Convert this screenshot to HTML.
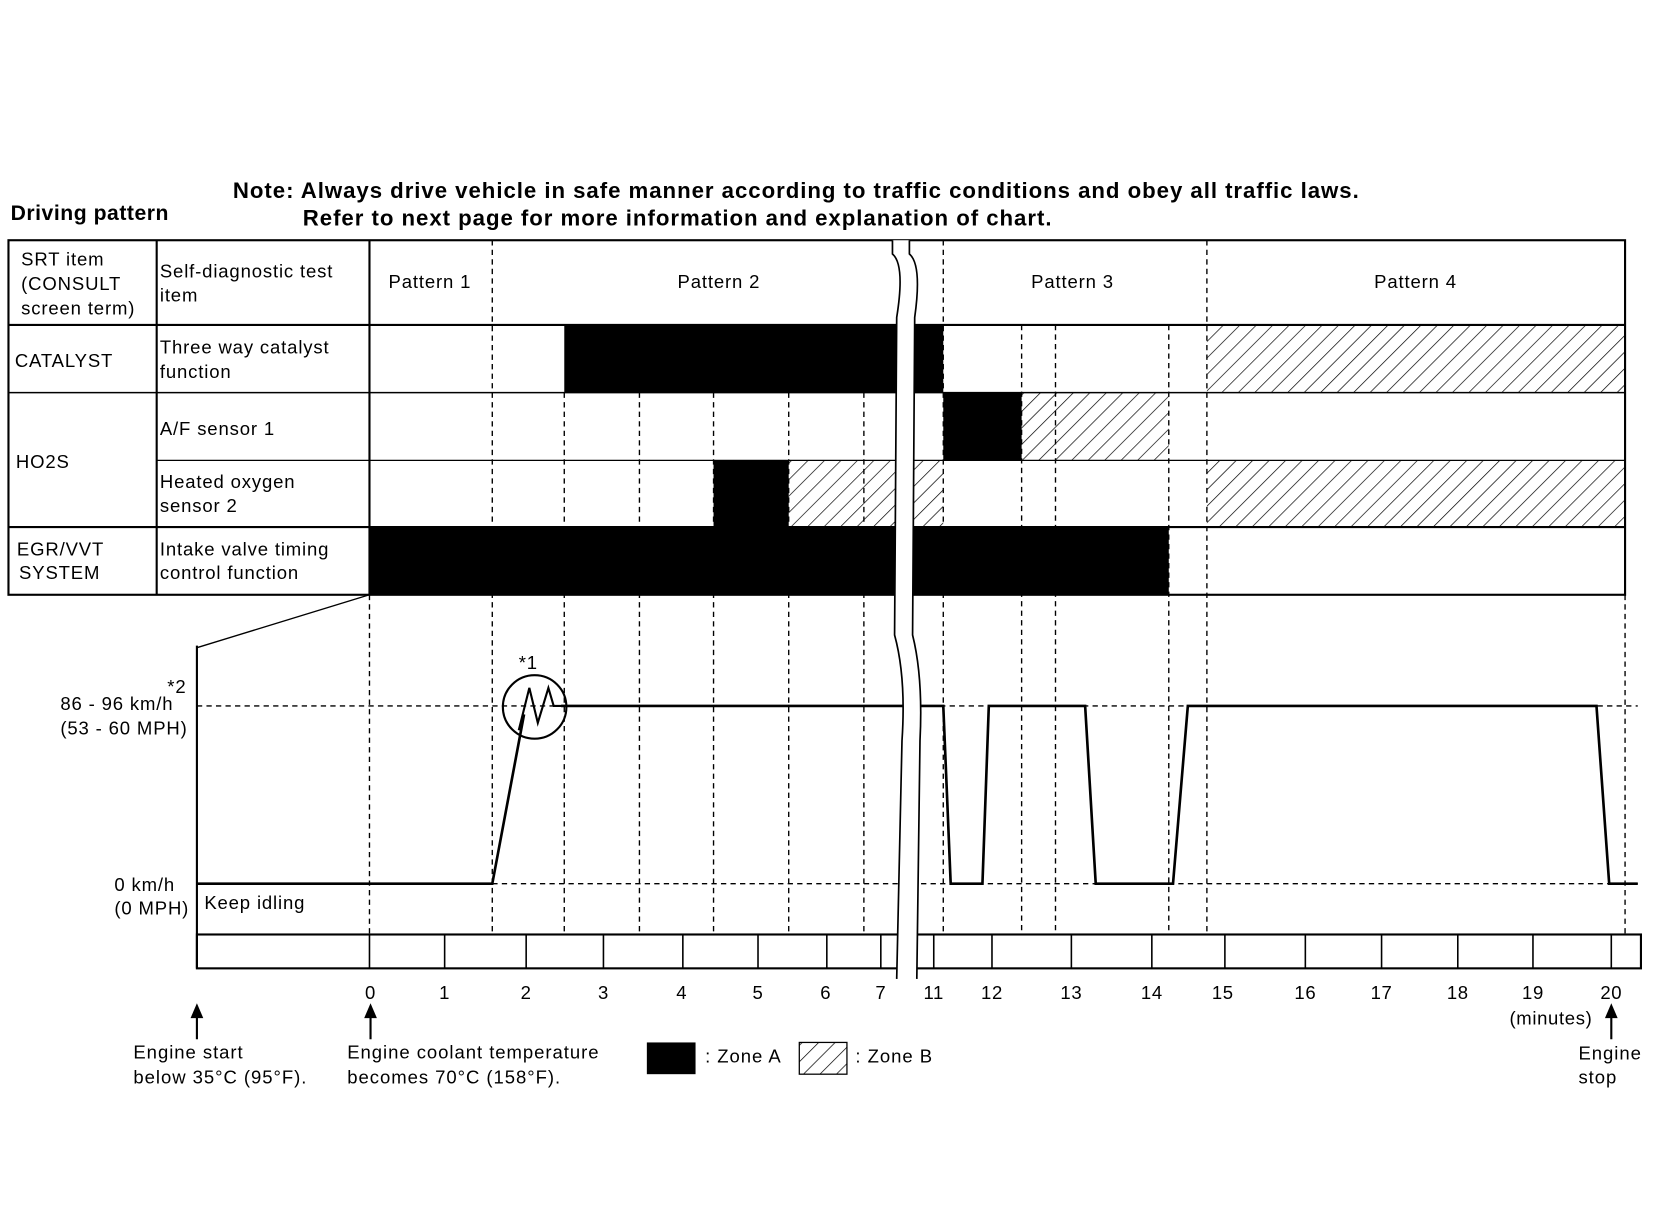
<!DOCTYPE html>
<html><head><meta charset="utf-8"><style>html,body{margin:0;padding:0;background:#fff}svg{display:block}</style></head>
<body>
<svg width="1660" height="1216" viewBox="0 0 1568 1149" preserveAspectRatio="none" xmlns="http://www.w3.org/2000/svg" font-family="Liberation Sans, sans-serif">
<defs>
<pattern id="h" patternUnits="userSpaceOnUse" width="11" height="11" patternTransform="rotate(45)">
<line x1="0" y1="0" x2="0" y2="11" stroke="#000" stroke-width="1.3"/>
</pattern>
</defs>
<rect width="1568" height="1149" fill="#fff"/>
<text x="10" y="208" font-size="20" font-weight="bold" letter-spacing="0.5">Driving pattern</text>
<text x="220" y="187" font-size="21" font-weight="bold" letter-spacing="0.9">Note: Always drive vehicle in safe manner according to traffic conditions and obey all traffic laws.</text>
<text x="286" y="213" font-size="21" font-weight="bold" letter-spacing="0.9">Refer to next page for more information and explanation of chart.</text>

<rect x="533" y="307" width="358" height="64" fill="#000"/>
<rect x="1140" y="307" width="395" height="64" fill="url(#h)"/>
<rect x="891" y="371" width="74" height="64" fill="#000"/>
<rect x="965" y="371" width="139" height="64" fill="url(#h)"/>
<rect x="674" y="435" width="71" height="63" fill="#000"/>
<rect x="745" y="435" width="146" height="63" fill="url(#h)"/>
<rect x="1140" y="435" width="395" height="63" fill="url(#h)"/>
<rect x="349" y="498" width="755" height="64" fill="#000"/>

<g stroke="#000" stroke-width="1.3" stroke-dasharray="5,4">
<line x1="465" y1="227" x2="465" y2="883"/>
<line x1="533" y1="371" x2="533" y2="883"/>
<line x1="604" y1="371" x2="604" y2="883"/>
<line x1="674" y1="371" x2="674" y2="883"/>
<line x1="745" y1="371" x2="745" y2="883"/>
<line x1="816" y1="371" x2="816" y2="883"/>
<line x1="891" y1="227" x2="891" y2="883"/>
<line x1="965" y1="307" x2="965" y2="883"/>
<line x1="997" y1="307" x2="997" y2="883"/>
<line x1="1104" y1="307" x2="1104" y2="883"/>
<line x1="1140" y1="227" x2="1140" y2="883"/>
<line x1="1535" y1="562" x2="1535" y2="883"/>
<line x1="349" y1="562" x2="349" y2="883"/>
<line x1="186" y1="667" x2="1547" y2="667"/>
<line x1="186" y1="835" x2="1547" y2="835"/>
</g>

<g stroke="#000" fill="none">
<rect x="8" y="227" width="1527" height="335" stroke-width="2"/>
<line x1="8" y1="307" x2="1535" y2="307" stroke-width="2"/>
<line x1="8" y1="371" x2="1535" y2="371" stroke-width="1.5"/>
<line x1="148" y1="435" x2="1535" y2="435" stroke-width="1.2"/>
<line x1="8" y1="498" x2="1535" y2="498" stroke-width="2"/>
<line x1="148" y1="227" x2="148" y2="562" stroke-width="2"/>
<line x1="349" y1="227" x2="349" y2="562" stroke-width="2"/>
</g>

<g font-size="17.5" letter-spacing="0.8">
<text x="20" y="251">SRT item</text>
<text x="20" y="274">(CONSULT</text>
<text x="20" y="297">screen term)</text>
<text x="151" y="262">Self-diagnostic test</text>
<text x="151" y="285">item</text>
<text x="367" y="272">Pattern 1</text>
<text x="640" y="272">Pattern 2</text>
<text x="974" y="272">Pattern 3</text>
<text x="1298" y="272">Pattern 4</text>
<text x="14" y="347">CATALYST</text>
<text x="151" y="334">Three way catalyst</text>
<text x="151" y="357">function</text>
<text x="15" y="442">HO2S</text>
<text x="151" y="411">A/F sensor 1</text>
<text x="151" y="461">Heated oxygen</text>
<text x="151" y="484">sensor 2</text>
<text x="16" y="525">EGR/VVT</text>
<text x="18" y="547">SYSTEM</text>
<text x="151" y="525">Intake valve timing</text>
<text x="151" y="547">control function</text>
</g>

<g stroke="#000" fill="none" stroke-width="2">
<line x1="186" y1="612" x2="349" y2="562" stroke-width="1.3"/>
<line x1="186" y1="610" x2="186" y2="915"/>
<rect x="186" y="883" width="1364" height="32"/>
<polyline stroke-width="2.5" points="186,835 465,835 495,675"/>
<polyline stroke-width="2.5" points="530,667 891,667 898,835 928,835 934,667 1025,667 1035,835 1108,835 1122,667 1508,667 1520,835 1547,835"/>
<circle cx="505" cy="668" r="30"/>
<polyline points="490,690 500,650 508,683 518,650 523,667 535,667"/>
</g>
<g stroke="#000" stroke-width="1.5">
<line x1="349" y1="883" x2="349" y2="915"/><line x1="420" y1="883" x2="420" y2="915"/>
<line x1="497" y1="883" x2="497" y2="915"/><line x1="570" y1="883" x2="570" y2="915"/>
<line x1="645" y1="883" x2="645" y2="915"/><line x1="716" y1="883" x2="716" y2="915"/>
<line x1="781" y1="883" x2="781" y2="915"/><line x1="832" y1="883" x2="832" y2="915"/>
<line x1="882" y1="883" x2="882" y2="915"/><line x1="937" y1="883" x2="937" y2="915"/>
<line x1="1012" y1="883" x2="1012" y2="915"/><line x1="1088" y1="883" x2="1088" y2="915"/>
<line x1="1157" y1="883" x2="1157" y2="915"/><line x1="1233" y1="883" x2="1233" y2="915"/>
<line x1="1305" y1="883" x2="1305" y2="915"/><line x1="1377" y1="883" x2="1377" y2="915"/>
<line x1="1448" y1="883" x2="1448" y2="915"/><line x1="1522" y1="883" x2="1522" y2="915"/>
</g>

<path d="M843,227 L843,240 Q855,250 847,300 L845,600 Q856,640 852,700 L847,925 L866,925 L869,700 Q872,640 862,600 L864,300 Q871,250 859,240 L859,227 Z" fill="#fff" stroke="none"/>
<g stroke="#000" stroke-width="1.6" fill="none">
<path d="M843,227 L843,240 Q855,250 847,300 L845,600 Q856,640 852,700 L847,925"/>
<path d="M859,227 L859,240 Q871,250 864,300 L862,600 Q872,640 869,700 L866,925"/>
</g>

<g font-size="17.5" letter-spacing="0.8">
<text x="490" y="632">*1</text>
<text x="158" y="655">*2</text>
<text x="57" y="671">86 - 96 km/h</text>
<text x="57" y="694">(53 - 60 MPH)</text>
<text x="108" y="842">0 km/h</text>
<text x="108" y="864">(0 MPH)</text>
<text x="193" y="859">Keep idling</text>
</g>
<g font-size="17.5" text-anchor="middle" letter-spacing="0.6">
<text x="350" y="944">0</text><text x="420" y="944">1</text><text x="497" y="944">2</text>
<text x="570" y="944">3</text><text x="644" y="944">4</text><text x="716" y="944">5</text>
<text x="780" y="944">6</text><text x="832" y="944">7</text><text x="882" y="944">11</text>
<text x="937" y="944">12</text><text x="1012" y="944">13</text><text x="1088" y="944">14</text>
<text x="1155" y="944">15</text><text x="1233" y="944">16</text><text x="1305" y="944">17</text>
<text x="1377" y="944">18</text><text x="1448" y="944">19</text><text x="1522" y="944">20</text>
<text x="1465" y="968">(minutes)</text>
</g>

<g stroke="#000" stroke-width="2">
<line x1="186" y1="960" x2="186" y2="982"/>
<line x1="350" y1="960" x2="350" y2="982"/>
<line x1="1522" y1="960" x2="1522" y2="982"/>
</g>
<g fill="#000">
<polygon points="180,962 186,948 192,962"/>
<polygon points="344,962 350,948 356,962"/>
<polygon points="1516,962 1522,948 1528,962"/>
</g>
<g font-size="17.5" letter-spacing="0.9">
<text x="126" y="1000">Engine start</text>
<text x="126" y="1024">below 35°C (95°F).</text>
<text x="328" y="1000">Engine coolant temperature</text>
<text x="328" y="1024">becomes 70°C (158°F).</text>
<text x="666" y="1004">: Zone A</text>
<text x="808" y="1004">: Zone B</text>
<text x="1491" y="1001">Engine</text>
<text x="1491" y="1024">stop</text>
</g>
<rect x="611" y="985" width="46" height="30" fill="#000"/>
<rect x="755" y="985" width="45" height="30" fill="url(#h)" stroke="#000" stroke-width="1.2"/>
</svg>
</body></html>
